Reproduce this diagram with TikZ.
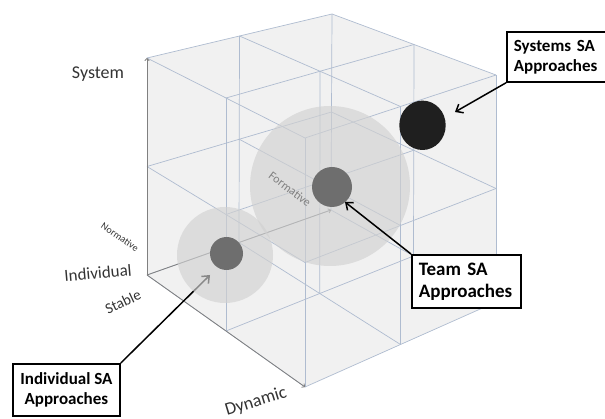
\documentclass[tikz,border=0pt]{standalone}
\usepackage{fontspec}
\setmainfont{Carlito}
\usepackage[dvipsnames]{xcolor}
\usetikzlibrary{arrows.meta,calc,positioning}

\definecolor{gridblue}{RGB}{175,188,208}
\definecolor{cubefill}{RGB}{241,241,241}

\begin{document}
\begin{tikzpicture}[x=1pt,y=-1pt,
  grid line/.style={gridblue,line width=0.7pt},
  axis line/.style={-{To[length=3pt,width=5pt]},black!50,line width=0.8pt},
  axis label/.style={text=black!80,font=\fontsize{18}{20}\selectfont,inner sep=0pt},
  sa box/.style={draw=black,line width=1.8pt,fill=white,font=\bfseries\fontsize{17}{20}\selectfont,inner ysep=0pt,anchor=north west},
  call/.style={-{Straight Barb[length=6pt,width=10pt]},black,line width=1.5pt}]
  \useasboundingbox (0,0) rectangle (605,419);
  \coordinate (c000) at (147,275);
  \coordinate (c001) at (147,58);
  \coordinate (c100) at (305,387);
  \coordinate (c101) at (305,138);
  \coordinate (c010) at (331,210);
  \coordinate (c011) at (332,14);
  \coordinate (c110) at (496,302);
  \coordinate (c111) at (496,75);
  \fill[cubefill] (c001) -- (c011) -- (c111) -- (c110) -- (c100) -- (c000) -- cycle;
  \foreach \a in {0,0.5,1}
    \foreach \b in {0,0.5,1}{
      \draw[grid line] ($($(c000)!\a!(c100)$)!\b!($(c010)!\a!(c110)$)$) -- ($($(c001)!\a!(c101)$)!\b!($(c011)!\a!(c111)$)$);
      \draw[grid line] ($($(c000)!\a!(c010)$)!\b!($(c001)!\a!(c011)$)$) -- ($($(c100)!\a!(c110)$)!\b!($(c101)!\a!(c111)$)$);
      \draw[grid line] ($($(c000)!\a!(c100)$)!\b!($(c001)!\a!(c101)$)$) -- ($($(c010)!\a!(c110)$)!\b!($(c011)!\a!(c111)$)$);
    }
  \draw[axis line] (c000) -- (c001);
  \draw[axis line] (c000) -- (c100);
  \draw[axis line] (c000) -- (c010);

  \coordinate (indtip) at (210,275);
  \coordinate (teamtip) at (345,202);
  \coordinate (systip) at (455,112);

  \node[sa box, minimum width=107pt, minimum height=52pt, align=center] (indbox) at (12,363) {Individual SA\\Approaches};
  \path[call] (indbox.north east) edge (indtip);

  \fill[black!18, fill opacity=0.65] (225,255) circle[radius=48];
  \fill[black!18, fill opacity=0.65] (330,186) circle[radius=80];
  \node[axis label, font=\fontsize{12}{14}\selectfont, rotate=-37, text=black!50] (formative) at (290,189) {Formative};
  \fill[black!57] (226.5,253.5) circle[radius=16.5];
  \fill[black!57] (332,187) circle[radius=20];
  \fill[black!88] (422.5,125.3) ellipse[x radius=23.2, y radius=24.7];

  \node[sa box, text width=86pt, inner xsep=7pt, minimum height=50pt, align=left] (sysbox) at (506,31) {Systems SA\\Approaches};
  \node[sa box, text width=95pt, inner xsep=7pt, minimum height=53pt, align=left, font=\bfseries\fontsize{19}{22}\selectfont] (teambox) at (411,254) {Team SA\\Approaches};
  \path[call] (sysbox.south west) edge (systip)
              (teambox.north west) edge (teamtip);

  \node[axis label] (system) at (98,74) {System};
  \node[axis label, font=\fontsize{17}{20}\selectfont, rotate=5] (individual) at (98,273) {Individual};
  \node[axis label, font=\fontsize{15}{18}\selectfont, rotate=25] (stable) at (123,302) {Stable};
  \node[axis label, font=\fontsize{10}{12}\selectfont, rotate=-34] (normative) at (120,237) {Normative};
  \node[axis label, rotate=17] (dynamic) at (256,402) {Dynamic};
\end{tikzpicture}
\end{document}
